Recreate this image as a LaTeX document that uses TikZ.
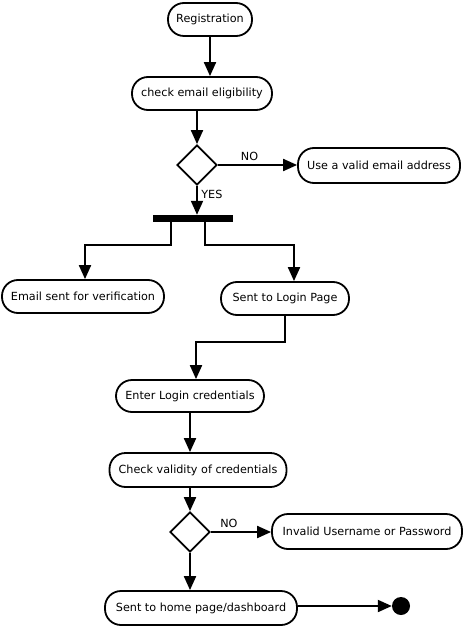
\documentclass[tikz,border=0pt]{standalone}
\usepackage{fontspec}
\setmainfont{DejaVu Sans}
\usepackage{tikz}
\usetikzlibrary{arrows.meta,shapes.geometric,calc,positioning}

\begin{document}
\begin{tikzpicture}[
	x=1pt, y=-1pt,
	font=\fontsize{11.2}{13}\selectfont,
	every node/.style = {align=center},
	action/.style = {shape=rectangle, rounded corners=16pt,
		draw, line width=1.8pt, minimum height=33pt, inner sep=2pt},
	decision/.style = {shape=diamond, draw, line width=1.8pt,
		minimum width=40pt, minimum height=40pt, inner sep=0pt},
	forkbar/.style = {shape=rectangle, fill=black,
		minimum width=80pt, minimum height=7pt, inner sep=0pt},
	finalstate/.style = {shape=circle, fill=black,
		minimum size=18pt, inner sep=0pt},
	flow/.style = {line width=2pt,
		-{Triangle[length=14pt,width=12pt]}},
	guard/.style = {draw=none, font=\fontsize{11.2}{13}\selectfont}
]
\useasboundingbox (0,0) rectangle (465,628);

% activities
\node[action, minimum width=84pt] (reg) at (210,19.5) {Registration};
\node[action, minimum width=140pt] (chk) at (202,93.5) {check email eligibility};
\node[decision] (dec1) at (197,165) {};
\node[action, minimum width=162pt, minimum height=35pt] (use) at (379,165.5) {Use a valid email address};
\node[forkbar] (fork) at (193,218.5) {};
\node[action, minimum width=162pt] (mail) at (83,296.5) {Email sent for verification};
\node[action, minimum width=128pt] (login) at (285,298.5) {Sent to Login Page};
\node[action, minimum width=148pt, minimum height=32pt] (enter) at (190,396) {Enter Login credentials};
\node[action, minimum width=177pt, minimum height=34pt] (valid) at (198,470) {Check validity of credentials};
\node[decision] (dec2) at (190,532) {};
\node[action, minimum width=190pt, minimum height=35pt] (invalid) at (367,531.5) {Invalid Username or Password};
\node[action, minimum width=192pt, minimum height=34pt] (home) at (201,608) {Sent to home page/dashboard};
\node[finalstate] (fin) at (401,606) {};

% flows
\draw[flow] (reg) -- (reg |- chk.north);
\draw[flow] (chk.south -| dec1) -- (dec1.north);
\draw[flow] (dec1.east) -- node[guard, above, pos=0.4] {NO} (dec1.east -| use.west);
\draw[flow] (dec1.south) -- node[guard, right, pos=0.3] {YES} (fork.north -| dec1);
\draw[flow] ([xshift=-22pt]fork.south) -- ++(0,23) -| ([xshift=2pt]mail.north);
\draw[flow] ([xshift=12pt]fork.south) -- ++(0,23) -| ([xshift=9pt]login.north);
\draw[flow] (login.south) -- ++(0,26) -| ([xshift=6pt]enter.north);
\draw[flow] (enter.south) -- (enter.south |- valid.north);
\draw[flow] (valid.south -| dec2) -- (dec2.north);
\draw[flow] (dec2.east) -- node[guard, above, pos=0.3] {NO} (dec2.east -| invalid.west);
\draw[flow] (dec2.south) -- (dec2 |- home.north);
\draw[flow] (home.east |- fin) -- (fin.west);
\end{tikzpicture}
\end{document}
